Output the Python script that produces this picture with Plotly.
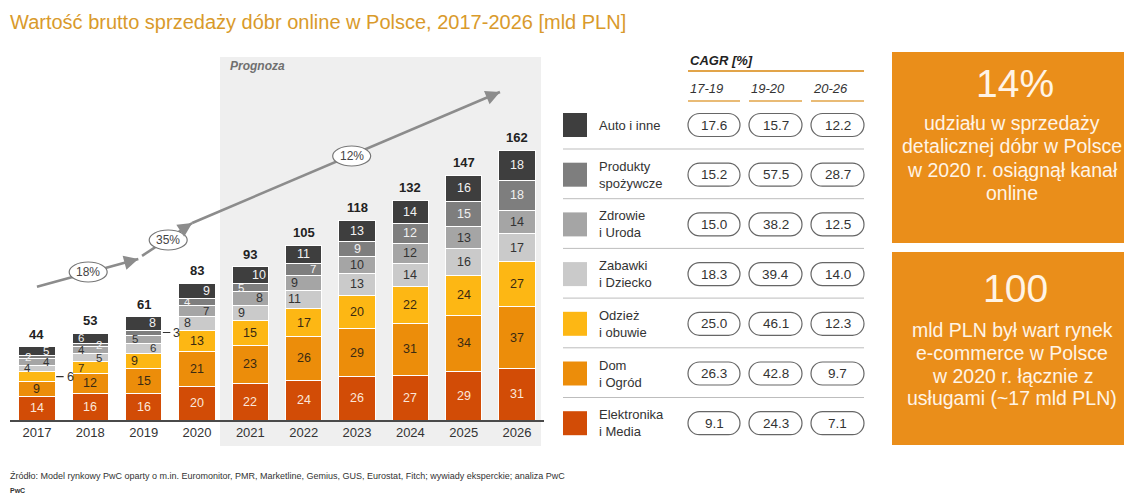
import plotly.graph_objects as go

# ---------------- data ----------------
years = ["2017", "2018", "2019", "2020", "2021", "2022", "2023", "2024", "2025", "2026"]
elektronika = [14, 16, 16, 20, 22, 24, 26, 27, 29, 31]
dom = [9, 12, 15, 21, 23, 26, 29, 31, 34, 37]
odziez = [6, 7, 9, 13, 15, 17, 20, 22, 24, 27]
zabawki = [4, 5, 6, 8, 9, 11, 13, 14, 16, 17]
zdrowie = [4, 4, 5, 7, 8, 9, 10, 12, 13, 14]
produkty = [2, 2, 3, 4, 5, 7, 9, 12, 15, 18]
auto = [5, 6, 8, 9, 10, 11, 13, 14, 16, 18]
totals = [44, 53, 61, 83, 93, 105, 118, 132, 147, 162]

category_names = ["Elektronika<br>i Media", "Dom<br>i Ogród", "Odzież<br>i obuwie",
                  "Zabawki<br>i Dziecko", "Zdrowie<br>i Uroda", "Produkty<br>spożywcze",
                  "Auto i inne"]
cagr_periods = ["17-19", "19-20", "20-26"]
cagr_elektronika = [9.1, 24.3, 7.1]
cagr_dom = [26.3, 42.8, 9.7]
cagr_odziez = [25.0, 46.1, 12.3]
cagr_zabawki = [18.3, 39.4, 14.0]
cagr_zdrowie = [15.0, 38.2, 12.5]
cagr_produkty = [15.2, 57.5, 28.7]
cagr_auto = [17.6, 15.7, 12.2]

growth_labels = ["18%", "35%", "12%"]

title_text = "Wartość brutto sprzedaży dóbr online w Polsce, 2017-2026 [mld PLN]"
source_text = ("Źródło: Model rynkowy PwC oparty o m.in. Euromonitor, PMR, Marketline, Gemius, "
               "GUS, Eurostat, Fitch; wywiady eksperckie; analiza PwC")
box1_big = "14%"
box1_lines = ["udziału w sprzedaży", "detalicznej dóbr w Polsce", "w 2020 r. osiągnął kanał", "online"]
box2_big = "100"
box2_lines = ["mld PLN był wart rynek", "e-commerce w Polsce", "w 2020 r. łącznie z", "usługami (~17 mld PLN)"]

# ---------------- style ----------------
W, H = 1124, 495
FONT = "Liberation Sans"
seg_colors = ["#D24C06", "#EC8D0A", "#FDB714", "#CACACA", "#A5A5A5", "#7E7E7E", "#3E3E3E"]
seg_text_colors = ["#FBE7DA", "#3A2A12", "#3A2A12", "#333333", "#333333", "#F0F0F0", "#F2F2F2"]
# label placement per year (stack order): c=centre, L=left, R=right, O=outside right with leader
label_side = ["ccOLRLR", "ccLRLRL", "ccLRLOR", "cccLRLR", "cccLRLR",
              "cccLLRc", "ccccccc", "ccccccc", "ccccccc", "ccccccc"]

series = [elektronika, dom, odziez, zabawki, zdrowie, produkty, auto]
cagr_rows = [cagr_elektronika, cagr_dom, cagr_odziez, cagr_zabawki, cagr_zdrowie,
             cagr_produkty, cagr_auto]


def px(x):
    return x / W


def py(y):
    return 1 - y / H


def ptext(text, x, y, size, color, xanchor="left", yanchor="middle", align="left"):
    return dict(text=text, xref="paper", yref="paper", x=px(x), y=py(y), xanchor=xanchor,
                yanchor=yanchor, align=align, showarrow=False,
                font=dict(family=FONT, size=size, color=color))


# chart geometry (pixels)
x_left, x_right = 10.3, 543.7
y_base, y_top = 420, 60
y_max = 216
ppu_x = (x_right - x_left) / len(years)
ppu_y = (y_base - y_top) / y_max

fig = go.Figure()
for vals, name, col in zip(series, category_names, seg_colors):
    fig.add_trace(go.Bar(
        x=list(range(len(years))), y=vals, name=name.replace("<br>", " "),
        marker=dict(color=col, line=dict(color="white", width=1)),
        width=0.68, hoverinfo="skip"))

annotations = []
shapes = []

# prognoza shading
shapes.append(dict(type="rect", xref="paper", yref="paper", x0=px(220), x1=px(541),
                   y0=py(446), y1=py(57), fillcolor="#EFEFEF", line=dict(width=0), layer="below"))
annotations.append(ptext("<b><i>Prognoza</i></b>", 228, 66, 12, "#707070"))

# segment labels
for i in range(len(years)):
    cum = 0
    for k, vals in enumerate(series):
        v = vals[i]
        mid = cum + v / 2
        side = label_side[i][k]
        small = v * ppu_y < 12
        fs = 11.5 if small else 12.5
        if side == "O":
            shapes.append(dict(type="line", xref="x", yref="y", x0=i + 0.36, x1=i + 0.5,
                               y0=mid, y1=mid, line=dict(color="#333", width=1.2)))
            annotations.append(dict(text=str(v), x=i + 0.52, y=mid, xref="x", yref="y",
                                    xanchor="left", yanchor="middle", showarrow=False,
                                    font=dict(family=FONT, size=12.5, color="#333")))
        else:
            off = {"c": 0, "L": -0.17, "R": 0.17}[side]
            annotations.append(dict(text=str(v), x=i + off, y=mid, xref="x", yref="y",
                                    xanchor="center", yanchor="middle", showarrow=False,
                                    font=dict(family=FONT, size=fs, color=seg_text_colors[k])))
        cum += v
    annotations.append(dict(text=f"<b>{totals[i]}</b>", x=i, y=cum, xref="x", yref="y",
                            xanchor="center", yanchor="bottom", yshift=3, showarrow=False,
                            font=dict(family=FONT, size=13, color="#222")))

# growth arrow (data coordinates)
arrow_col = "#8C8C8C"
segments = [((0, 80), (1.9, 96.6)), ((1.97, 98.5), (2.91, 118.2)), ((2.91, 118.2), (8.68, 196.8))]
for (xa, ya), (xb, yb) in segments:
    shapes.append(dict(type="line", xref="x", yref="y", x0=xa, y0=ya, x1=xb, y1=yb,
                       line=dict(color=arrow_col, width=2.6), layer="above"))
    dxp = (xb - xa) * ppu_x
    dyp = (yb - ya) * ppu_y
    n = (dxp ** 2 + dyp ** 2) ** 0.5
    annotations.append(dict(text="", x=xb, y=yb, xref="x", yref="y", showarrow=True,
                            ax=-dxp / n * 8, ay=dyp / n * 8, arrowhead=2, arrowsize=1.1,
                            arrowwidth=2.6, arrowcolor=arrow_col, standoff=0))
ell_pos = [(0.96, 88.8), (2.46, 108), (5.9, 158.4)]
for (ex, ey), lab in zip(ell_pos, growth_labels):
    hw = 19 / ppu_x
    hh = 10 / ppu_y
    shapes.append(dict(type="circle", xref="x", yref="y", x0=ex - hw, x1=ex + hw,
                       y0=ey - hh, y1=ey + hh, fillcolor="white",
                       line=dict(color="#777", width=1.2), layer="above"))
    annotations.append(dict(text=lab, x=ex, y=ey, xref="x", yref="y", showarrow=False,
                            xanchor="center", yanchor="middle",
                            font=dict(family=FONT, size=12, color="#444")))

# ---------------- table ----------------
annotations.append(ptext("<b><i>CAGR [%]</i></b>", 688, 60, 13, "#222"))
shapes.append(dict(type="line", xref="paper", yref="paper", x0=px(688), x1=px(864), y0=py(71), y1=py(71),
                   line=dict(color="#E2A449", width=2)))
col_x = [(688, 740), (749, 802), (811, 864)]
for (a, b), per in zip(col_x, cagr_periods):
    annotations.append(ptext(f"<i>{per}</i>", a, 88, 13, "#333"))
    shapes.append(dict(type="line", xref="paper", yref="paper", x0=px(a), x1=px(b), y0=py(101), y1=py(101),
                       line=dict(color="#E2A449", width=1.6)))


def pill_path(cx, cy, w, h):
    r = h / 2
    k = 0.5523 * r
    x0, x1 = cx - w / 2, cx + w / 2
    y0, y1 = cy - r, cy + r

    def P(x, y):
        return f"{px(x):.5f},{py(y):.5f}"
    return (f"M {P(x0 + r, y0)} L {P(x1 - r, y0)} "
            f"C {P(x1 - r + k, y0)} {P(x1, cy - k)} {P(x1, cy)} "
            f"C {P(x1, cy + k)} {P(x1 - r + k, y1)} {P(x1 - r, y1)} "
            f"L {P(x0 + r, y1)} "
            f"C {P(x0 + r - k, y1)} {P(x0, cy + k)} {P(x0, cy)} "
            f"C {P(x0, cy - k)} {P(x0 + r - k, y0)} {P(x0 + r, y0)} Z")


n_rows = len(category_names)
for r in range(n_rows):
    k = n_rows - 1 - r  # top row = last in stack
    cy = 125 + 49.7 * r
    shapes.append(dict(type="rect", xref="paper", yref="paper", x0=px(563), x1=px(587),
                       y0=py(cy + 12), y1=py(cy - 12), fillcolor=seg_colors[k], line=dict(width=0)))
    annotations.append(ptext(category_names[k], 597, cy, 13, "#333"))
    for (a, b), val in zip(col_x, cagr_rows[k]):
        cx = (a + b) / 2
        shapes.append(dict(type="path", xref="paper", yref="paper", path=pill_path(cx, cy, b - a, 23),
                           fillcolor="white", line=dict(color="#666", width=1.2)))
        annotations.append(ptext(f"{val:.1f}", cx, cy, 13.5, "#333", xanchor="center"))
    if r < n_rows - 1:
        sy = cy + 24
        shapes.append(dict(type="line", xref="paper", yref="paper", x0=px(563), x1=px(864),
                           y0=py(sy), y1=py(sy), line=dict(color="#BDBDBD", width=1)))

# ---------------- right boxes ----------------
box_col = "#EA8E1A"
box_txt = "#FFF4E6"
shapes.append(dict(type="rect", xref="paper", yref="paper", x0=px(892), x1=px(1130), y0=py(243), y1=py(52),
                   fillcolor=box_col, line=dict(width=0)))
shapes.append(dict(type="rect", xref="paper", yref="paper", x0=px(892), x1=px(1130), y0=py(445), y1=py(252),
                   fillcolor=box_col, line=dict(width=0)))
bx = 1012
annotations.append(ptext(box1_big, bx + 3, 84, 39, box_txt, xanchor="center", align="center"))
for j, line in enumerate(box1_lines):
    annotations.append(ptext(line, bx, 123 + 23.3 * j, 19.5, box_txt, xanchor="center", align="center"))
annotations.append(ptext(box2_big, bx + 3, 288, 39, box_txt, xanchor="center", align="center"))
for j, line in enumerate(box2_lines):
    annotations.append(ptext(line, bx, 330 + 22.8 * j, 19.5, box_txt, xanchor="center", align="center"))

# ---------------- title & footer ----------------
annotations.append(ptext(title_text, 8, 22, 20, "#D99A2B"))
annotations.append(ptext(source_text, 8, 476, 9, "#333"))
annotations.append(ptext("<b>PwC</b>", 8, 490, 7, "#333"))

fig.update_layout(
    width=W, height=H, margin=dict(l=0, r=0, t=0, b=0),
    paper_bgcolor="white", plot_bgcolor="rgba(0,0,0,0)",
    barmode="stack", showlegend=False,
    font=dict(family=FONT),
    xaxis=dict(domain=[px(x_left), px(x_right)], range=[-0.5, len(years) - 0.5],
               tickmode="array", tickvals=list(range(len(years))), ticktext=years,
               tickfont=dict(family=FONT, size=13, color="#333"), showgrid=False, zeroline=False,
               showline=True, linecolor="#4A4A4A", linewidth=1.5, ticks=""),
    yaxis=dict(domain=[py(y_base), py(y_top)], range=[0, y_max], visible=False),
    shapes=shapes, annotations=annotations,
)

fig.write_html("out.html")
